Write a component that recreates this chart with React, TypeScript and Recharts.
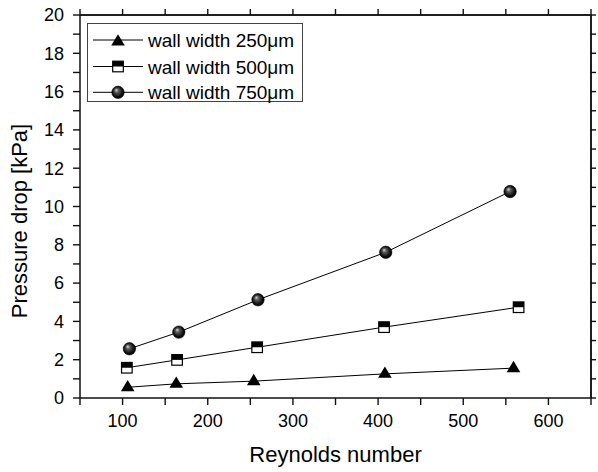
import React from "react";
import { LineChart, Line, XAxis, YAxis, ReferenceLine } from "recharts";

// values
const re250 = [106, 163, 254, 408, 559];
const dp250 = [0.56, 0.74, 0.88, 1.26, 1.56];
const re500 = [105, 164, 258, 407, 565];
const dp500 = [1.58, 1.99, 2.65, 3.7, 4.74];
const re750 = [108, 166, 259, 409, 555];
const dp750 = [2.57, 3.44, 5.13, 7.61, 10.78];

const seriesNames = ["wall width 250μm", "wall width 500μm", "wall width 750μm"];
const xTicks = [50, 100, 150, 200, 250, 300, 350, 400, 450, 500, 550, 600, 650];
const yTicks = [0, 1, 2, 3, 4, 5, 6, 7, 8, 9, 10, 11, 12, 13, 14, 15, 16, 17, 18, 19, 20];
const xTitle = "Reynolds number";
const yTitle = "Pressure drop [kPa]";

const FONT = "'Liberation Sans', Arial, sans-serif";
const INK = "#111";

const toRows = (re: number[], dp: number[]) => re.map((r, i) => ({ re: r, dp: dp[i] }));

function Triangle({ cx, cy }: { cx: number; cy: number }) {
  return (
    <polygon
      points={`${cx},${cy - 7.3} ${cx - 6.8},${cy + 4} ${cx + 6.8},${cy + 4}`}
      fill="#000"
    />
  );
}

function HalfSquare({ cx, cy }: { cx: number; cy: number }) {
  return (
    <g>
      <rect x={cx - 5.3} y={cy - 5.3} width={10.6} height={10.6} fill="#fff" stroke="#000" strokeWidth={1.2} />
      <rect x={cx - 5.3} y={cy - 5.3} width={10.6} height={5.3} fill="#000" />
    </g>
  );
}

function Sphere({ cx, cy }: { cx: number; cy: number }) {
  return <circle cx={cx} cy={cy} r={6.2} fill="url(#sphere-grad)" stroke="#000" strokeWidth={0.6} />;
}

// labels only on the major ticks; the tick marks come from tickLine
const BottomLabel = (p: any) => {
  const v = p.payload.value;
  if (v % 100 !== 0 || v < 100 || v > 600) return <g />;
  return (
    <text x={Number(p.x)} y={Number(p.y) + 22} textAnchor="middle" fontSize={18} fontFamily={FONT} fill="#000">
      {v}
    </text>
  );
};

const LeftLabel = (p: any) => {
  const v = p.payload.value;
  if (v % 2 !== 0) return <g />;
  return (
    <text x={Number(p.x) - 9} y={Number(p.y) + 6.3} textAnchor="end" fontSize={18} fontFamily={FONT} fill="#000">
      {v}
    </text>
  );
};

const NoLabel = () => <g />;

// overlay with the axis titles and the legend box
function Overlay() {
  const rows = [40, 66.5, 92.3];
  return (
    <svg
      width={598}
      height={472}
      style={{ position: "absolute", left: 0, top: 0, pointerEvents: "none" }}
    >
      <defs>
        <radialGradient id="sphere-grad" cx="0.5" cy="0.5" r="0.55" fx="0.35" fy="0.3">
          <stop offset="0%" stopColor="#d8d8d8" />
          <stop offset="30%" stopColor="#5a5a5a" />
          <stop offset="75%" stopColor="#0c0c0c" />
          <stop offset="100%" stopColor="#000" />
        </radialGradient>
      </defs>
      <text x={335.5} y={462} textAnchor="middle" fontSize={22} fontFamily={FONT} fill="#000">
        {xTitle}
      </text>
      <text
        x={27}
        y={221}
        transform="rotate(-90, 27, 221)"
        textAnchor="middle"
        fontSize={22}
        fontFamily={FONT}
        fill="#000"
      >
        {yTitle}
      </text>
      <rect x={87.5} y={23.5} width={215} height={78} fill="#fff" stroke="#444" strokeWidth={1} />
      {seriesNames.map((name, i) => {
        const y = rows[i];
        return (
          <g key={name}>
            <line x1={93} x2={143} y1={y} y2={y} stroke="#000" strokeWidth={1} />
            {i === 0 && <Triangle cx={118} cy={y + 1.5} />}
            {i === 1 && <HalfSquare cx={118} cy={y} />}
            {i === 2 && <Sphere cx={118} cy={y} />}
            <text x={148} y={y + 7} fontSize={19} fontFamily={FONT} fill="#000">
              {name}
            </text>
          </g>
        );
      })}
    </svg>
  );
}

export default function App() {
  return (
    <div style={{ position: "absolute", left: 0, top: 0, width: 598, height: 472, background: "#fff" }}>
      <LineChart width={598} height={472} margin={{ top: 5, right: 0, bottom: 0, left: 0 }}>
        <XAxis
          xAxisId="b"
          dataKey="re"
          type="number"
          domain={[50, 650]}
          ticks={xTicks}
          interval={0}
          height={74}
          tickSize={7}
          tickMargin={0}
          tickLine={{ stroke: INK, strokeWidth: 1.4 }}
          tick={BottomLabel}
          axisLine={{ stroke: INK, strokeWidth: 1.5 }}
        />
        <XAxis
          xAxisId="t"
          orientation="top"
          dataKey="re"
          type="number"
          domain={[50, 650]}
          ticks={xTicks}
          interval={0}
          height={10}
          tickSize={6}
          tickMargin={0}
          tickLine={{ stroke: INK, strokeWidth: 1.4 }}
          tick={NoLabel}
          axisLine={{ stroke: INK, strokeWidth: 1.5 }}
        />
        <YAxis
          yAxisId="l"
          type="number"
          domain={[0, 20]}
          ticks={yTicks}
          interval={0}
          width={80}
          tickSize={7}
          tickMargin={0}
          tickLine={{ stroke: INK, strokeWidth: 1.4 }}
          tick={LeftLabel}
          axisLine={{ stroke: INK, strokeWidth: 1.5 }}
        />
        <YAxis
          yAxisId="r"
          orientation="right"
          type="number"
          domain={[0, 20]}
          ticks={yTicks}
          interval={0}
          width={7}
          tickSize={5}
          tickMargin={0}
          tickLine={{ stroke: INK, strokeWidth: 1.4 }}
          tick={NoLabel}
          axisLine={{ stroke: INK, strokeWidth: 1.5 }}
        />
        {/* frame edges at the top and right of the domain */}
        <ReferenceLine xAxisId="b" yAxisId="l" y={20} stroke={INK} strokeWidth={1.5} />
        <ReferenceLine xAxisId="b" yAxisId="l" x={650} stroke={INK} strokeWidth={1.5} />
        <Line
          xAxisId="b"
          yAxisId="l"
          data={toRows(re250, dp250)}
          dataKey="dp"
          stroke="#000"
          strokeWidth={1}
          isAnimationActive={false}
          dot={(p: any) => <Triangle key={`t-${p.index}`} cx={p.cx} cy={p.cy} />}
        />
        <Line
          xAxisId="b"
          yAxisId="l"
          data={toRows(re500, dp500)}
          dataKey="dp"
          stroke="#000"
          strokeWidth={1}
          isAnimationActive={false}
          dot={(p: any) => <HalfSquare key={`s-${p.index}`} cx={p.cx} cy={p.cy} />}
        />
        <Line
          xAxisId="t"
          yAxisId="r"
          data={toRows(re750, dp750)}
          dataKey="dp"
          stroke="#000"
          strokeWidth={1}
          isAnimationActive={false}
          dot={(p: any) => <Sphere key={`c-${p.index}`} cx={p.cx} cy={p.cy} />}
        />
      </LineChart>
      <Overlay />
    </div>
  );
}
